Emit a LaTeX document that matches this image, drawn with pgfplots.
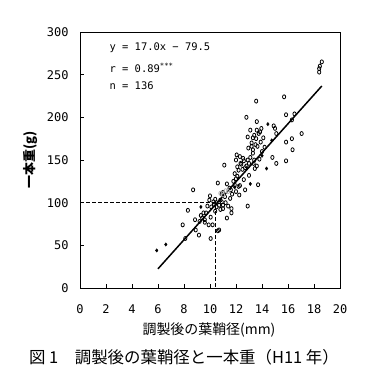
\documentclass[border=0pt]{standalone}
\usepackage{fontspec}
\setmainfont{Noto Sans CJK JP}
\newfontfamily\monofont{DejaVu Sans Mono}
\usepackage{pgfplots}
\pgfplotsset{compat=1.18}
\begin{document}
\begin{tikzpicture}
\path[use as bounding box, fill=white] (0,0) rectangle (386bp,382bp);
\begin{axis}[at={(80bp,94bp)}, anchor=south west, scale only axis,
  width=260bp, height=256bp,
  xmin=0, xmax=20, ymin=0, ymax=300,
  xtick={0,2,...,20}, ytick={0,50,...,300},
  tick align=inside, xtick pos=left, ytick pos=left,
  major tick length=4bp,
  axis line style={line width=0.9bp},
  tick style={line width=0.7bp, black},
  ticklabel style={font=\monofont\fontsize{12}{14}\selectfont},
  /pgf/number format/assume math mode=true,
  xticklabel style={yshift=-13bp},
  yticklabel style={xshift=-8bp},
  clip=false]
% dashed reference lines
\addplot[black, line width=0.9bp, dash pattern=on 3.5bp off 2.5bp] coordinates {(0,100) (10.4,100) (10.4,0)};
% open ellipse points
\addplot[only marks, mark=o, mark size=2bp, mark options={xscale=0.8, line width=0.8bp, black}] coordinates {
(8.1,58)(7.9,74)(8.3,91)(8.7,115)(8.85,80)(9.15,62)(8.9,68)(9.4,82)(9.5,88)(9.6,77)
(9.7,88)(9.9,74)(10.05,83)(10.05,58)(10.0,108)(10.2,74)(9.95,103)(10.26,101)(10.4,90)(10.5,95)
(10.6,123)(10.6,67)(10.7,68)(10.8,103)(10.9,101)(11.0,93)(11.1,144)(11.0,112)(11.15,107)(11.3,82)
(11.5,117)(11.55,105)(11.65,93)(11.65,88)(11.8,125)(11.9,134)(12.0,150)(12.1,142)(12.05,156)(12.2,119)
(12.25,109)(12.3,154)(12.35,146)(12.55,152)(12.6,127)(12.7,115)(12.8,143)(12.8,200)(12.9,177)(12.9,96)
(12.95,164)(13.0,146)(13.2,166)(13.3,158)(13.35,146)(13.4,179)(13.45,140)(13.5,168)(13.55,175)(13.55,219)
(13.6,195)(13.65,166)(13.7,121)(13.75,181)(13.85,183)(13.9,171)(13.95,187)(14.1,176)(14.8,153)(14.9,190)
(15.0,187)(15.1,146)(15.1,181)(15.7,224)(15.85,203)(15.85,171)(15.85,149)(16.3,175)(16.35,162)(16.3,197)
(16.5,204)(17.05,181)(18.4,253)(18.45,260)(18.6,265)(18.4,257)
(9.2,78)(9.3,85)(9.8,96)(10.3,98)(10.5,100)(10.7,97)(10.9,110)(11.2,100)(11.4,96)(11.7,110)
(11.9,121)(12.0,128)(12.1,131)(12.2,138)(12.4,145)(12.5,139)(12.6,149)(12.9,150)(13.1,153)(13.2,170)
(13.3,162)(13.4,150)(13.6,143)(13.8,151)(14.0,160)(13.1,185)(13.3,176)(12.7,141)(12.3,120)(11.6,115)
(10.8,92)(10.4,104)(9.6,80)(11.3,122)(12.0,113)(13.0,132)(14.2,165)(13.6,185)(10.1,95)(11.0,97)
};
% small filled points
\addplot[only marks, mark=diamond*, mark size=1.7bp, black] coordinates {
(5.9,44)(6.6,51)(9.3,95)(13.1,122)(14.35,140)(14.45,192)(14.75,173)(11.9,118)(14.0,155)
};
% gray points
\addplot[only marks, mark=o, mark size=2bp, mark options={xscale=0.8, line width=0.8bp, gray!60}] coordinates {
(10.8,111)(11.2,114)(11.0,109)(11.4,113)
};
% regression line
\addplot[black, line width=1.5bp] coordinates {(6,22.5) (18.6,236.7)};
\end{axis}
\node[anchor=west, font=\monofont\fontsize{10.5}{13}\selectfont] at (106bp,334bp) {y = 17.0x − 79.5};
\node[anchor=west, font=\monofont\fontsize{10.5}{13}\selectfont] at (106bp,314bp) {r = 0.89\textsuperscript{***}};
\node[anchor=west, font=\monofont\fontsize{10.5}{13}\selectfont] at (106bp,296bp) {n = 136};
\node[font=\fontsize{14}{16}\selectfont] at (209bp,52bp) {調製後の葉鞘径(mm)};
\node[font=\fontsize{13}{15}\selectfont\bfseries, rotate=90] at (30bp,222bp) {一本重(g)};
\node[font=\fontsize{16.5}{18}\selectfont] at (184bp,25bp) {図 1　調製後の葉鞘径と一本重（H11 年）};
\end{tikzpicture}
\end{document}
